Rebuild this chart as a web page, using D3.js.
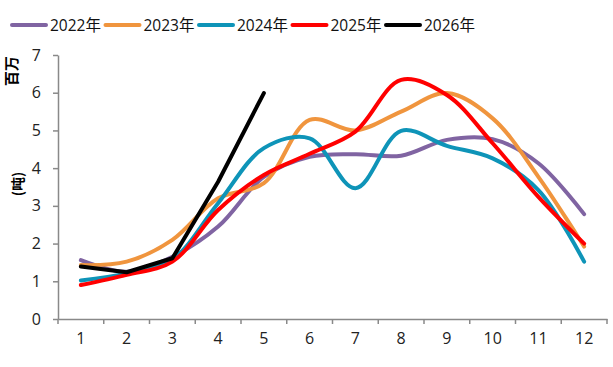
<!DOCTYPE html>
<html><head><meta charset="utf-8">
<script src="https://cdn.jsdelivr.net/npm/d3@7"></script>
<style>body{margin:0;background:#fff;} text{font-family:"Open Sans","Noto Sans CJK SC",sans-serif;}</style>
</head><body>
<svg id="c" width="613" height="367"></svg>
<script>
const months = ["1","2","3","4","5","6","7","8","9","10","11","12"];
const yTicks = [0,1,2,3,4,5,6,7];
const seriesNames = ["2022年","2023年","2024年","2025年","2026年"];
const seriesColors = ["#8064a2","#f0953e","#0e94b8","#ff0000","#000000"];
const v2022 = [1.56,1.25,1.65,2.45,3.77,4.3,4.37,4.33,4.75,4.77,4.13,2.78];
const v2023 = [1.43,1.52,2.1,3.2,3.6,5.28,5.0,5.5,5.99,5.32,3.77,1.92];
const v2024 = [1.02,1.21,1.58,3.07,4.53,4.79,3.47,4.99,4.59,4.26,3.42,1.52];
const v2025 = [0.9,1.17,1.52,2.89,3.82,4.38,4.97,6.34,5.94,4.66,3.24,2.0];
const v2026 = [1.39,1.24,1.61,3.64,5.99];
const allValues = [v2022,v2023,v2024,v2025,v2026];

const svg = d3.select("#c");
const x = d3.scaleBand().domain(months).range([58,607]);
const y = d3.scaleLinear().domain([0,7]).range([319,55]);

const xAxis = svg.append("g").attr("transform","translate(0,319)")
  .call(d3.axisBottom(x).tickSize(0).tickPadding(14));
xAxis.select(".domain").attr("stroke","#898989").attr("stroke-width",1.5);
xAxis.selectAll("text").attr("font-size",16).attr("fill","#222");
svg.append("g").selectAll("line").data(d3.range(13)).join("line")
  .attr("x1",i=>58+i*x.step()).attr("x2",i=>58+i*x.step())
  .attr("y1",319).attr("y2",324).attr("stroke","#898989").attr("stroke-width",1.5);

const yAxis = svg.append("g").attr("transform","translate(58,0)")
  .call(d3.axisLeft(y).tickValues(yTicks).tickFormat(d3.format("d")).tickSize(5).tickSizeOuter(0).tickPadding(12));
yAxis.select(".domain").attr("stroke","#898989").attr("stroke-width",1.5);
yAxis.selectAll("line").attr("stroke","#898989").attr("stroke-width",1.5);
yAxis.selectAll("text").attr("font-size",16).attr("fill","#222");

svg.append("text").attr("transform","translate(10,71) rotate(-90)")
  .attr("text-anchor","middle").attr("dominant-baseline","central").attr("font-size",15).attr("font-weight","bold")
  .style("font-family","'Noto Sans CJK SC'").text("百万");
svg.append("text").attr("transform","translate(17,184) rotate(-90)")
  .attr("text-anchor","middle").attr("dominant-baseline","central").attr("font-size",14).attr("font-weight","bold")
  .style("font-family","'Noto Sans CJK SC'").text("(吨)");

const smooth = d3.line().x((d,i)=>x(months[i])+x.bandwidth()/2).y(d=>y(d)).curve(d3.curveCatmullRom.alpha(0.5));
const straight = d3.line().x((d,i)=>x(months[i])+x.bandwidth()/2).y(d=>y(d));

allValues.forEach((vals,k)=>{
  svg.append("path").datum(vals)
    .attr("d", k===4 ? straight(vals) : smooth(vals))
    .attr("fill","none").attr("stroke",seriesColors[k]).attr("stroke-width",4)
    .attr("stroke-linecap","round").attr("stroke-linejoin","round");
});

const leg = svg.append("g");
seriesNames.forEach((n,k)=>{
  const x0 = 11 + k*93.5;
  leg.append("line").attr("x1",x0+1).attr("x2",x0+35).attr("y1",25).attr("y2",25)
    .attr("stroke",seriesColors[k]).attr("stroke-width",4).attr("stroke-linecap","round");
  leg.append("text").attr("x",x0+39).attr("y",31).attr("font-size",15.5).attr("fill","#111").text(n);
});
</script>
</body></html>
